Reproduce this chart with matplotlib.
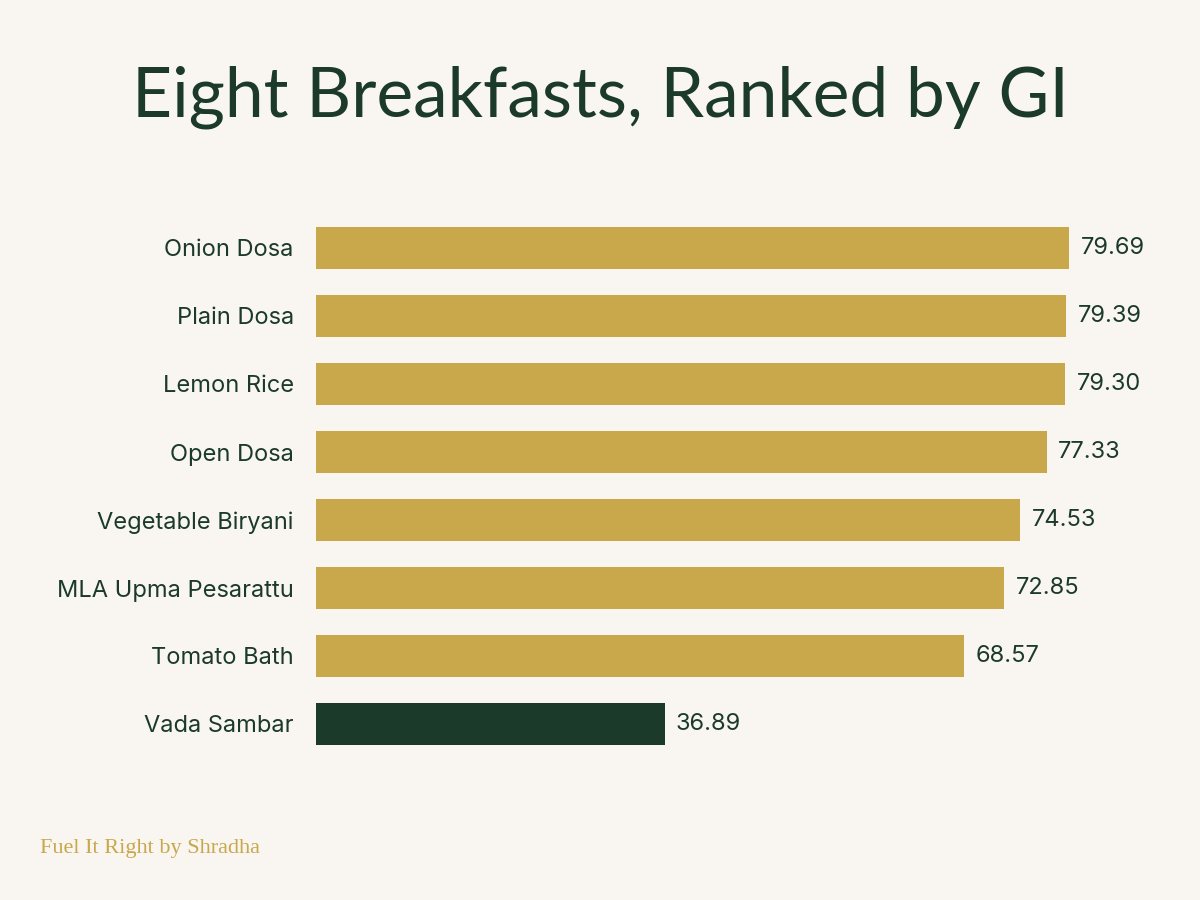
import matplotlib
matplotlib.use("Agg")
import matplotlib.pyplot as plt

categories = ["Onion Dosa", "Plain Dosa", "Lemon Rice", "Open Dosa",
              "Vegetable Biryani", "MLA Upma Pesarattu", "Tomato Bath", "Vada Sambar"]
values = [79.69, 79.39, 79.30, 77.33, 74.53, 72.85, 68.57, 36.89]
highlight = "Vada Sambar"

bg = "#f9f6f1"; gold = "#c9a84c"; dark = "#1b3a2a"
fig = plt.figure(figsize=(12, 9), dpi=100, facecolor=bg)
ax = fig.add_axes([316/1200, 1-758/900, 834/1200, 544/900], facecolor=bg)
ypos = list(range(len(categories)))
colors = [dark if c == highlight else gold for c in categories]
ax.barh(ypos, values, height=0.63, color=colors)
for y, v in zip(ypos, values):
    ax.text(v + 1.2, y, f"{v:.2f}", va="center", ha="left", fontsize=17,
            color=dark, family="Inter")
ax.set_yticks(ypos)
ax.set_yticklabels(categories, fontsize=17, color=dark, family="Inter")
ax.tick_params(axis="y", length=0, pad=16)
ax.set_xticks([])
ax.set_xlim(0, 834/9.45)
ax.set_ylim(7.5, -0.5)
for s in ax.spines.values():
    s.set_visible(False)
fig.text(0.5, 1-97/900, "Eight Breakfasts, Ranked by GI", ha="center", va="center",
         fontsize=50, color=dark, family="Lato")
fig.text(40/1200, 1-848/900, "Fuel It Right by Shradha", ha="left", va="center",
         fontsize=16, color=gold, family="Liberation Serif")
fig.savefig("out.png", facecolor=bg)
